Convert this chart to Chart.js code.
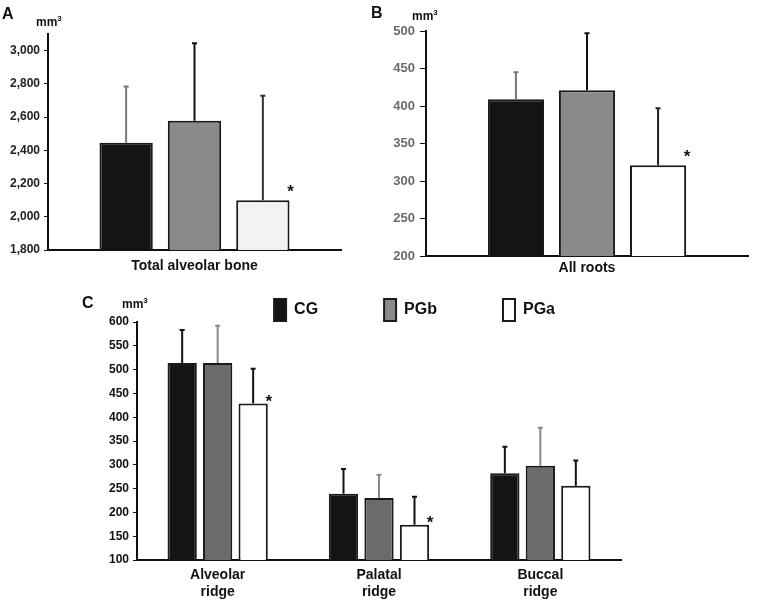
<!DOCTYPE html>
<html>
<head>
<meta charset="utf-8">
<title>Alveolar bone and root volumes</title>
<script src="https://cdn.jsdelivr.net/npm/chart.js@4.4.1/dist/chart.umd.min.js"></script>
<style>
    body { margin: 0; background: #fff; width: 761px; height: 604px; position: relative; overflow: hidden;
           font-family: 'Liberation Sans', Arial, sans-serif; color: #111; }
    .panel { position: absolute; }
    .panel canvas { display: block; }
    .tag { position: absolute; font-size: 16px; font-weight: bold; line-height: 1; }
    .unit { position: absolute; font-size: 12px; font-weight: bold; line-height: 1; }
    .unit sup { font-size: 8px; line-height: 0; vertical-align: 5px; }
</style>
</head>
<body>
<div class="panel" style="left:0;top:233px"><canvas id="chartC" width="761" height="371"></canvas></div>
<div class="panel" style="left:0;top:0"><canvas id="chartA" width="380" height="280"></canvas></div>
<div class="panel" style="left:380px;top:0"><canvas id="chartB" width="381" height="280"></canvas></div>

<div class="tag" style="left:2px;top:6px">A</div>
<div class="unit" style="left:36px;top:16px">mm<sup>3</sup></div>
<div class="tag" style="left:371px;top:5px">B</div>
<div class="unit" style="left:412px;top:10px">mm<sup>3</sup></div>
<div class="tag" style="left:82px;top:295px">C</div>
<div class="unit" style="left:122px;top:298px">mm<sup>3</sup></div>

<script>
const groups = ['CG', 'PGb', 'PGa'];

// A - total alveolar bone
const boneLabel = ['Total alveolar bone'];
const boneMean = [2445, 2578, 2100];
const boneSd = [339, 466, 628];
const boneSig = [false, false, true];
const boneTicks = [1800, 2000, 2200, 2400, 2600, 2800, 3000];

// B - all roots
const rootLabel = ['All roots'];
const rootMean = [409, 421, 321];
const rootSd = [36, 76, 76];
const rootSig = [false, false, true];
const rootTicks = [200, 250, 300, 350, 400, 450, 500];

// C - ridges
const ridgeLabels = [['Alveolar', 'ridge'], ['Palatal', 'ridge'], ['Buccal', 'ridge']];
const ridgeCG = [514, 239, 282];
const ridgeCGSd = [69, 52, 56];
const ridgePGb = [514, 230, 298];
const ridgePGbSd = [78, 49, 80];
const ridgePGa = [429, 174, 256];
const ridgePGaSd = [73, 59, 53];
const ridgePGaSig = [true, true, false];
const ridgeTicks = [100, 150, 200, 250, 300, 350, 400, 450, 500, 550, 600];

const FONT = "'Liberation Sans', Arial, sans-serif";
Chart.defaults.font.family = FONT;
Chart.defaults.font.weight = 'bold';
Chart.defaults.color = '#111';

// whiskers (mean + SD) and significance stars, drawn over the bars
const errorBars = {
    id: 'errorBars',
    afterDatasetsDraw(chart, args, opts) {
        const ctx = chart.ctx;
        const y = chart.scales.y;
        chart.data.datasets.forEach((ds, i) => {
            chart.getDatasetMeta(i).data.forEach((bar, j) => {
                const top = y.getPixelForValue(ds.data[j] + ds.sd[j]);
                ctx.save();
                ctx.strokeStyle = ds.errColor;
                ctx.lineWidth = 2;
                ctx.beginPath();
                ctx.moveTo(bar.x, bar.y);
                ctx.lineTo(bar.x, top);
                ctx.moveTo(bar.x - opts.cap, top);
                ctx.lineTo(bar.x + opts.cap, top);
                ctx.stroke();
                if (ds.sig && ds.sig[j]) {
                    ctx.fillStyle = '#111';
                    ctx.font = 'bold 17px ' + FONT;
                    ctx.textAlign = 'center';
                    ctx.fillText('*', bar.x + bar.width / 2 + 1, bar.y - opts.starLift);
                }
                ctx.restore();
            });
        });
    }
};

function makeSet(label, data, sd, fill, errColor, sig) {
    return {
        label: label,
        data: data,
        sd: sd,
        sig: sig,
        errColor: errColor,
        backgroundColor: fill,
        borderColor: '#1a1a1a',
        borderWidth: 2
    };
}

function yAxis(min, max, tickList, width, color, size, tickLen, pad) {
    return {
        min: min,
        max: max,
        afterBuildTicks: s => { s.ticks = tickList.map(v => ({ value: v })); },
        afterFit: s => { s.width = width; },
        grid: { drawOnChartArea: false, drawTicks: true, tickLength: tickLen, color: '#111' },
        border: { color: '#111', width: 2 },
        ticks: { color: color, font: { size: size, weight: 'bold' }, padding: pad }
    };
}

function xAxis(height, pad) {
    return {
        afterFit: s => { s.height = height; },
        grid: { display: false, drawTicks: false },
        border: { color: '#111', width: 2 },
        ticks: { color: '#111', font: { size: 14, weight: 'bold' }, padding: pad, maxRotation: 0 }
    };
}

// Panel A
new Chart(document.getElementById('chartA'), {
    type: 'bar',
    data: {
        labels: boneLabel,
        datasets: [
            makeSet(groups[0], [boneMean[0]], [boneSd[0]], '#141414', '#777', [boneSig[0]]),
            makeSet(groups[1], [boneMean[1]], [boneSd[1]], '#8a8a8a', '#111', [boneSig[1]]),
            makeSet(groups[2], [boneMean[2]], [boneSd[2]], '#f2f2f2', '#333', [boneSig[2]])
        ]
    },
    options: {
        responsive: false,
        animation: false,
        locale: 'en-US',
        categoryPercentage: 0.70,
        barPercentage: 0.78,
        layout: { padding: { top: 34, right: 39, left: 0, bottom: 0 } },
        plugins: { legend: { display: false }, tooltip: { enabled: false }, errorBars: { cap: 2.5, starLift: 3 } },
        scales: { x: xAxis(30, 8), y: yAxis(1800, 3100, boneTicks, 48, '#222', 12, 4, 4) }
    },
    plugins: [errorBars]
});

// Panel B
new Chart(document.getElementById('chartB'), {
    type: 'bar',
    data: {
        labels: rootLabel,
        datasets: [
            makeSet(groups[0], [rootMean[0]], [rootSd[0]], '#141414', '#777', [rootSig[0]]),
            makeSet(groups[1], [rootMean[1]], [rootSd[1]], '#8a8a8a', '#111', [rootSig[1]]),
            makeSet(groups[2], [rootMean[2]], [rootSd[2]], '#ffffff', '#222', [rootSig[2]])
        ]
    },
    options: {
        responsive: false,
        animation: false,
        locale: 'en-US',
        categoryPercentage: 0.662,
        barPercentage: 0.79,
        layout: { padding: { top: 31, right: 13, left: 0, bottom: 0 } },
        plugins: { legend: { display: false }, tooltip: { enabled: false }, errorBars: { cap: 2.5, starLift: 3 } },
        scales: { x: xAxis(24, 4), y: yAxis(200, 500, rootTicks, 46, '#6a6a6a', 13, 6, 5) }
    },
    plugins: [errorBars]
});

// Panel C
const legendFill = ['#141414', '#8a8a8a', '#ffffff'];

new Chart(document.getElementById('chartC'), {
    type: 'bar',
    data: {
        labels: ridgeLabels,
        datasets: [
            makeSet(groups[0], ridgeCG, ridgeCGSd, '#141414', '#111', null),
            makeSet(groups[1], ridgePGb, ridgePGbSd, '#6b6b6b', '#888', null),
            makeSet(groups[2], ridgePGa, ridgePGaSd, '#ffffff', '#111', ridgePGaSig)
        ]
    },
    options: {
        responsive: false,
        animation: false,
        categoryPercentage: 0.66,
        barPercentage: 0.825,
        layout: { padding: { top: 0, right: 140, left: 0, bottom: 0 } },
        plugins: {
            tooltip: { enabled: false },
            errorBars: { cap: 2.5, starLift: 1 },
            legend: {
                position: 'top',
                align: 'end',
                maxHeight: 89,
                labels: {
                    boxWidth: 12,
                    boxHeight: 22,
                    padding: 66,
                    color: '#111',
                    font: { size: 16, weight: 'bold' },
                    generateLabels: chart => Chart.defaults.plugins.legend.labels.generateLabels(chart)
                        .map((item, i) => Object.assign(item, { fillStyle: legendFill[i] }))
                }
            }
        },
        scales: { x: xAxis(44, 7), y: yAxis(100, 600, ridgeTicks, 137, '#111', 12, 4, 4) }
    },
    plugins: [errorBars]
});
</script>
</body>
</html>
